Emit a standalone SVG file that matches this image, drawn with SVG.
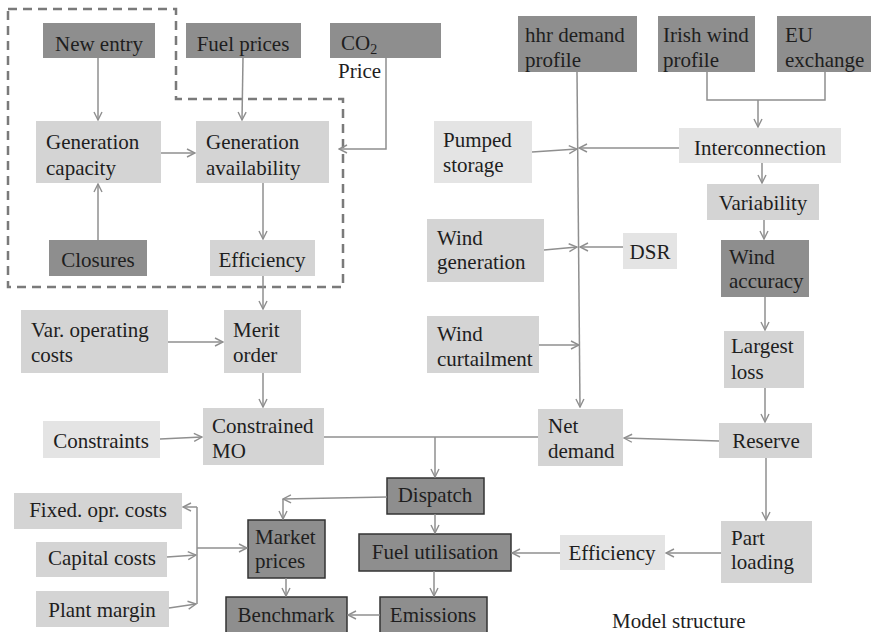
<svg xmlns="http://www.w3.org/2000/svg" width="871" height="632" viewBox="0 0 871 632" font-family="'Liberation Serif', 'DejaVu Serif', serif">
<defs>
<marker id="a" markerUnits="userSpaceOnUse" viewBox="0 0 10 10" refX="9" refY="5" markerWidth="10" markerHeight="10" orient="auto">
<path d="M1,1 L9,5 L1,9" fill="none" stroke="#8f8f8f" stroke-width="1.4"/>
</marker>
</defs>
<style>
.d{fill:#8e8e8e}
.m{fill:#d4d4d4}
.l{fill:#e4e4e4}
.b{fill:#8e8e8e;stroke:#333;stroke-width:1.5}
text{font-family:'Liberation Serif','DejaVu Serif',serif;font-size:21px;fill:#1e1e1e}
.c path{fill:none;stroke:#8f8f8f;stroke-width:1.5}
.c .e{marker-end:url(#a)}
.dash{fill:none;stroke:#7a7a7a;stroke-width:2.5;stroke-dasharray:9 6}
</style>
<rect width="871" height="632" fill="#fff"/>
<path class="dash" d="M8,9 H176 V99 H343 V287 H8 Z"/>
<g id="new-entry"><rect class="d" x="43" y="23" width="112" height="35"/><text x="99" y="51" text-anchor="middle">New entry</text></g>
<g id="fuel-prices"><rect class="d" x="186" y="23" width="115" height="35"/><text x="243" y="51" text-anchor="middle">Fuel prices</text></g>
<g id="co2-price"><rect class="d" x="330" y="23" width="111" height="35"/><text x="341" y="50">CO<tspan font-size="14" dy="4">2</tspan></text><text x="338" y="78">Price</text></g>
<g id="gen-capacity"><rect class="m" x="36" y="121" width="125" height="62"/><text x="46" y="149">Generation</text><text x="46" y="175">capacity</text></g>
<g id="gen-availability"><rect class="m" x="196" y="121" width="133" height="62"/><text x="206" y="149">Generation</text><text x="206" y="175">availability</text></g>
<g id="closures"><rect class="d" x="49" y="240" width="98" height="36"/><text x="98" y="267" text-anchor="middle">Closures</text></g>
<g id="efficiency-1"><rect class="m" x="210" y="240" width="105" height="36"/><text x="262" y="267" text-anchor="middle">Efficiency</text></g>
<g id="var-op-costs"><rect class="m" x="21" y="310" width="147" height="63"/><text x="31" y="337">Var. operating</text><text x="31" y="362">costs</text></g>
<g id="merit-order"><rect class="m" x="224" y="310" width="77" height="63"/><text x="233" y="337">Merit</text><text x="233" y="362">order</text></g>
<g id="constraints"><rect class="l" x="43" y="421" width="117" height="37"/><text x="101" y="448" text-anchor="middle">Constraints</text></g>
<g id="constrained-mo"><rect class="m" x="203" y="408" width="121" height="57"/><text x="212" y="433">Constrained</text><text x="212" y="458">MO</text></g>
<g id="fixed-costs"><rect class="m" x="14" y="493" width="168" height="36"/><text x="98" y="517" text-anchor="middle">Fixed. opr. costs</text></g>
<g id="capital-costs"><rect class="m" x="36" y="542" width="131" height="35"/><text x="102" y="565" text-anchor="middle">Capital costs</text></g>
<g id="plant-margin"><rect class="m" x="36" y="591" width="133" height="36"/><text x="102" y="617" text-anchor="middle">Plant margin</text></g>
<g id="dispatch"><rect class="b" x="387" y="478" width="97" height="36"/><text x="435" y="502" text-anchor="middle">Dispatch</text></g>
<g id="market-prices"><rect class="b" x="248" y="520" width="77" height="58"/><text x="255" y="544">Market</text><text x="255" y="568">prices</text></g>
<g id="fuel-utilisation"><rect class="b" x="359" y="534" width="152" height="37"/><text x="435" y="559" text-anchor="middle">Fuel utilisation</text></g>
<g id="benchmark"><rect class="b" x="226" y="597" width="121" height="40"/><text x="286" y="622" text-anchor="middle">Benchmark</text></g>
<g id="emissions"><rect class="b" x="380" y="597" width="107" height="40"/><text x="433" y="622" text-anchor="middle">Emissions</text></g>
<g id="hhr-demand"><rect class="d" x="518" y="16" width="119" height="56"/><text x="525" y="42">hhr demand</text><text x="525" y="67">profile</text></g>
<g id="irish-wind"><rect class="d" x="658" y="16" width="97" height="56"/><text x="663" y="42">Irish wind</text><text x="663" y="67">profile</text></g>
<g id="eu-exchange"><rect class="d" x="777" y="16" width="94" height="56"/><text x="785" y="42">EU</text><text x="785" y="67">exchange</text></g>
<g id="pumped-storage"><rect class="l" x="434" y="121" width="98" height="62"/><text x="443" y="147">Pumped</text><text x="443" y="172">storage</text></g>
<g id="interconnection"><rect class="l" x="679" y="128" width="162" height="35"/><text x="760" y="155" text-anchor="middle">Interconnection</text></g>
<g id="variability"><rect class="m" x="707" y="184" width="112" height="36"/><text x="763" y="210" text-anchor="middle">Variability</text></g>
<g id="wind-generation"><rect class="m" x="427" y="219" width="117" height="63"/><text x="437" y="245">Wind</text><text x="437" y="269">generation</text></g>
<g id="dsr"><rect class="l" x="623" y="233" width="54" height="36"/><text x="650" y="259" text-anchor="middle">DSR</text></g>
<g id="wind-accuracy"><rect class="d" x="721" y="240" width="88" height="57"/><text x="729" y="264">Wind</text><text x="729" y="288">accuracy</text></g>
<g id="wind-curtailment"><rect class="m" x="427" y="316" width="112" height="57"/><text x="437" y="341">Wind</text><text x="437" y="366">curtailment</text></g>
<g id="largest-loss"><rect class="m" x="724" y="331" width="80" height="57"/><text x="731" y="353">Largest</text><text x="731" y="379">loss</text></g>
<g id="net-demand"><rect class="m" x="538" y="409" width="85" height="57"/><text x="548" y="433">Net</text><text x="548" y="458">demand</text></g>
<g id="reserve"><rect class="m" x="719" y="423" width="93" height="35"/><text x="766" y="448" text-anchor="middle">Reserve</text></g>
<g id="part-loading"><rect class="m" x="721" y="521" width="91" height="62"/><text x="731" y="545">Part</text><text x="731" y="569">loading</text></g>
<g id="efficiency-2"><rect class="l" x="560" y="535" width="105" height="35"/><text x="612" y="560" text-anchor="middle">Efficiency</text></g>
<g id="connectors" class="c">
<path class="e" d="M98,58 V120"/>
<path class="e" d="M98,240 V184"/>
<path class="e" d="M161,153 H195"/>
<path class="e" d="M243,58 L242,120"/>
<path class="e" d="M386,58 V149 H339"/>
<path class="e" d="M263,183 V239"/>
<path class="e" d="M263,276 V309"/>
<path class="e" d="M168,342 H223"/>
<path class="e" d="M263,373 V407"/>
<path class="e" d="M160,439 L202,437"/>
<path d="M324,437 H538"/>
<path class="e" d="M435,437 V477"/>
<path class="e" d="M387,497 L283,499"/>
<path class="e" d="M283,499 V519"/>
<path class="e" d="M435,514 V533"/>
<path class="e" d="M434,571 V596"/>
<path class="e" d="M380,615 H348"/>
<path class="e" d="M286,578 V596"/>
<path d="M197,507 V604"/>
<path class="e" d="M197,507 H183"/>
<path class="e" d="M167,557 L196,555"/>
<path class="e" d="M169,608 L196,604"/>
<path class="e" d="M197,548 H247"/>
<path class="e" d="M577,72 L580,407"/>
<path d="M707,72 V100 H825 V72"/>
<path class="e" d="M758,100 V127"/>
<path class="e" d="M679,148 H579"/>
<path class="e" d="M532,152 L577,149"/>
<path class="e" d="M762,163 V183"/>
<path class="e" d="M764,220 V239"/>
<path class="e" d="M544,250 L577,247"/>
<path class="e" d="M623,247 H580"/>
<path class="e" d="M539,345 L579,345"/>
<path class="e" d="M765,297 V330"/>
<path class="e" d="M765,388 V422"/>
<path class="e" d="M719,441 L624,438"/>
<path class="e" d="M766,458 V520"/>
<path class="e" d="M721,553 H666"/>
<path class="e" d="M560,553 H512"/>
</g>
<text x="612" y="628" font-size="17">Model structure</text>
</svg>
